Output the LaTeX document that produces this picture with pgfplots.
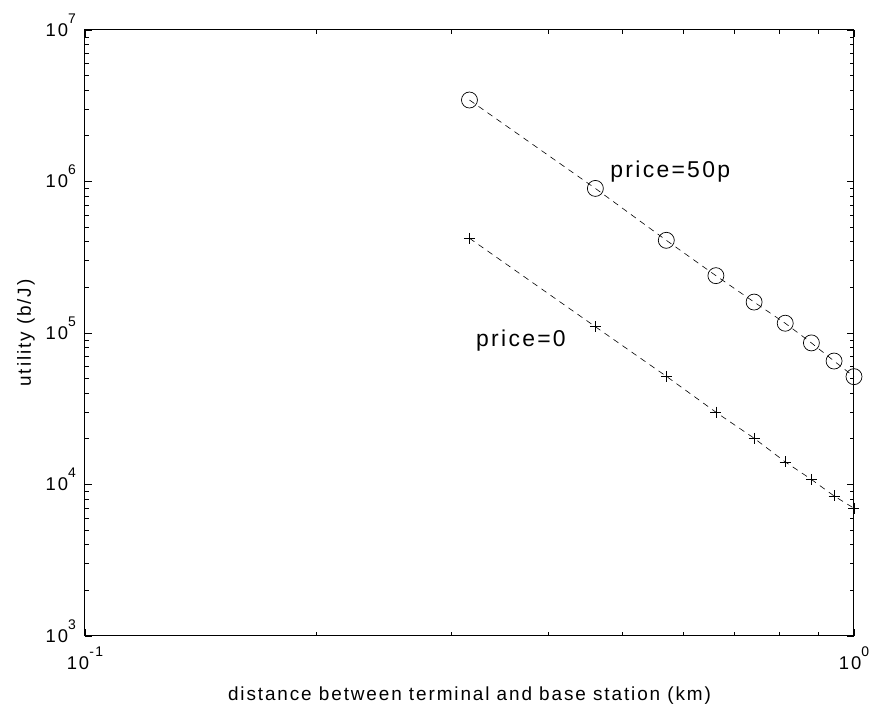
\documentclass[border=0pt]{standalone}
\usepackage{fontspec}
\setmainfont{Liberation Sans}[LetterSpace=10]
\usepackage{pgfplots}
\pgfplotsset{compat=1.18}
\newcommand\ysup[1]{10\smash{\raisebox{13bp}{\fontsize{14}{14}\selectfont #1}}}
\newcommand\xsup[1]{10\raisebox{13bp}{\fontsize{14}{14}\selectfont #1}}
\begin{document}
\begin{tikzpicture}
\path[use as bounding box] (-85bp,-71bp) rectangle (785bp,636bp);
\begin{axis}[
  at={(0,0)}, anchor=south west,
  scale only axis, width=769bp, height=606bp,
  xmode=log, ymode=log,
  xmin=0.1, xmax=1, ymin=1e3, ymax=1e7,
  axis line style={line width=1bp},
  every tick/.style={black, line width=0.8bp},
  major tick length=7bp, minor tick length=4bp,
  tick align=inside,
  xtick={0.1,1}, xticklabels={\xsup{-1},\xsup{0}},
  minor xtick={0.2,0.3,0.4,0.5,0.6,0.7,0.8,0.9},
  ytick={1e3,1e4,1e5,1e6,1e7},
  yticklabels={\ysup{3},\ysup{4},\ysup{5},\ysup{6},\ysup{7}},
  minor ytick={2e3,3e3,4e3,5e3,6e3,7e3,8e3,9e3,2e4,3e4,4e4,5e4,6e4,7e4,8e4,9e4,2e5,3e5,4e5,5e5,6e5,7e5,8e5,9e5,2e6,3e6,4e6,5e6,6e6,7e6,8e6,9e6},
  tick label style={font=\fontsize{18.5}{20}\selectfont},
  yticklabel style={anchor=east, inner sep=0pt, xshift=-9bp},
  xticklabel style={anchor=north, inner sep=0pt, yshift=-11bp},
  xlabel={distance between terminal and base station (km)},
  ylabel={utility (b/J)},
  label style={font=\fontsize{19}{20}\selectfont},
  xlabel style={at={([yshift=-65bp]axis description cs:0.5,0)}, anchor=base},
  ylabel style={at={([xshift=-54bp]axis description cs:0,0.5)}, anchor=base, rotate=0},
  clip=false,
]
\addplot[black, line width=0.6bp, dash pattern=on 6bp off 5bp,
  mark=o, mark size=8bp, mark options={solid, line width=0.7bp}]
  coordinates {(0.3162,3.45e6) (0.4610,9.0e5) (0.5701,4.09e5) (0.6614,2.39e5) (0.7416,1.60e5) (0.8139,1.16e5) (0.8803,8.6e4) (0.9421,6.53e4) (1.0,5.15e4)};
\addplot[black, line width=0.6bp, dash pattern=on 6bp off 5bp,
  mark=+, mark size=5.5bp, mark options={solid, line width=0.7bp}]
  coordinates {(0.3162,4.22e5) (0.4610,1.10e5) (0.5701,5.18e4) (0.6614,3.0e4) (0.7416,2.02e4) (0.8139,1.41e4) (0.8803,1.08e4) (0.9421,8.4e3) (1.0,6.97e3)};
\node[anchor=base west, inner sep=0pt, font=\fontsize{23}{24}\selectfont] at (axis cs:0.482,1.06e6) {price=50p};
\node[anchor=base west, inner sep=0pt, font=\fontsize{23}{24}\selectfont] at (axis cs:0.3225,8.2e4) {price=0};
\end{axis}
\end{tikzpicture}
\end{document}
